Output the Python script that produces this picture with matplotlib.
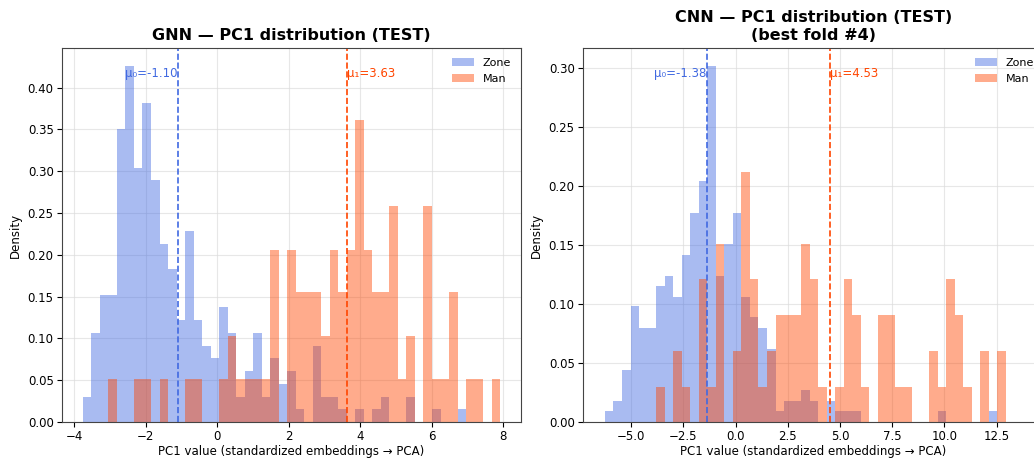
import numpy as np
import matplotlib
matplotlib.use("Agg")
import matplotlib.pyplot as plt
from matplotlib.transforms import blended_transform_factory

# ---------------- data ----------------
series_labels = ["Zone", "Man"]

# GNN panel: 49 equal bins from gnn_lo to gnn_hi
gnn_lo, gnn_hi, gnn_nbins = -3.76, 7.91, 49
gnn_zone = [0.030, 0.107, 0.152, 0.152, 0.350, 0.426, 0.304, 0.381, 0.289, 0.213,
            0.183, 0.122, 0.228, 0.122, 0.091, 0.076, 0.137, 0.107, 0.030, 0.061,
            0.107, 0.030, 0.076, 0.046, 0.061, 0.015, 0.000, 0.091, 0.030, 0.030,
            0.015, 0.000, 0.015, 0.000, 0.015, 0.030, 0.000, 0.000, 0.030, 0.000,
            0.000, 0.015, 0.000, 0.000, 0.015, 0.000, 0.000, 0.000, 0.000]
gnn_man = [0.000, 0.000, 0.000, 0.052, 0.000, 0.000, 0.052, 0.052, 0.000, 0.052,
           0.000, 0.000, 0.052, 0.052, 0.000, 0.000, 0.052, 0.103, 0.052, 0.052,
           0.052, 0.052, 0.206, 0.000, 0.206, 0.155, 0.155, 0.155, 0.103, 0.206,
           0.155, 0.206, 0.361, 0.206, 0.155, 0.155, 0.258, 0.052, 0.103, 0.000,
           0.258, 0.052, 0.052, 0.155, 0.000, 0.052, 0.052, 0.000, 0.052]
gnn_means = [-1.10, 3.63]

# CNN panel: 47 equal bins from cnn_lo to cnn_hi
cnn_lo, cnn_hi, cnn_nbins = -6.26, 12.94, 47
cnn_zone = [0.009, 0.018, 0.044, 0.098, 0.080, 0.080, 0.115, 0.124, 0.106, 0.142,
            0.177, 0.204, 0.302, 0.124, 0.151, 0.177, 0.106, 0.089, 0.080, 0.062,
            0.009, 0.018, 0.018, 0.027, 0.018, 0.000, 0.018, 0.009, 0.009, 0.009,
            0.000, 0.000, 0.000, 0.000, 0.000, 0.000, 0.000, 0.000, 0.000, 0.009,
            0.000, 0.000, 0.000, 0.000, 0.000, 0.009, 0.000]
cnn_man = [0.000, 0.000, 0.000, 0.000, 0.000, 0.000, 0.030, 0.000, 0.060, 0.030,
           0.000, 0.121, 0.030, 0.151, 0.000, 0.060, 0.212, 0.121, 0.030, 0.060,
           0.091, 0.091, 0.091, 0.151, 0.121, 0.030, 0.000, 0.030, 0.121, 0.091,
           0.030, 0.000, 0.091, 0.091, 0.030, 0.030, 0.000, 0.000, 0.060, 0.030,
           0.121, 0.091, 0.030, 0.000, 0.060, 0.000, 0.060]
cnn_means = [-1.38, 4.53]

titles = ["GNN — PC1 distribution (TEST)",
          "CNN — PC1 distribution (TEST)\n(best fold #4)"]
xlabel = "PC1 value (standardized embeddings → PCA)"
ylabel = "Density"

# ---------------- style ----------------
colors = ["royalblue", "orangered"]
alpha = 0.45

fig = plt.figure(figsize=(10.34, 4.59), dpi=100)
ax1 = fig.add_axes([62 / 1034, 37 / 459, 459 / 1034, 374 / 459])
ax2 = fig.add_axes([583 / 1034, 37 / 459, 461 / 1034, 374 / 459])

panels = [
    (ax1, gnn_lo, gnn_hi, gnn_nbins, [gnn_zone, gnn_man], gnn_means),
    (ax2, cnn_lo, cnn_hi, cnn_nbins, [cnn_zone, cnn_man], cnn_means),
]

for i, (ax, lo, hi, nb, dens, means) in enumerate(panels):
    edges = np.linspace(lo, hi, nb + 1)
    centers = 0.5 * (edges[:-1] + edges[1:])
    for d, c, lab in zip(dens, colors, series_labels):
        ax.hist(centers, bins=edges, weights=d, color=c, alpha=alpha,
                label=lab, linewidth=0)
    trans = blended_transform_factory(ax.transData, ax.transAxes)
    for k, (m, c) in enumerate(zip(means, colors)):
        ax.axvline(m, color=c, linestyle="--", linewidth=1.2)
        sub = "₀" if k == 0 else "₁"
        ax.text(m, 0.95, f"μ{sub}={m:.2f}", color=c, fontsize=8.5,
                ha="right" if k == 0 else "left", va="top", transform=trans)
    ax.grid(True, color="#dddddd", linewidth=0.8, alpha=0.7)
    ax.set_axisbelow(True)
    ax.set_title(titles[i], fontsize=11.5, fontweight="bold")
    ax.set_xlabel(xlabel, fontsize=8.5, labelpad=1)
    ax.set_ylabel(ylabel, fontsize=8.5)
    ax.tick_params(labelsize=8.5, pad=2.5)
    for s in ax.spines.values():
        s.set_color("#444444")
    ax.legend(loc="upper right", frameon=False, fontsize=8)

ax2.set_xlim(-7.31, 14.77)

fig.savefig("out.png", dpi=100)
